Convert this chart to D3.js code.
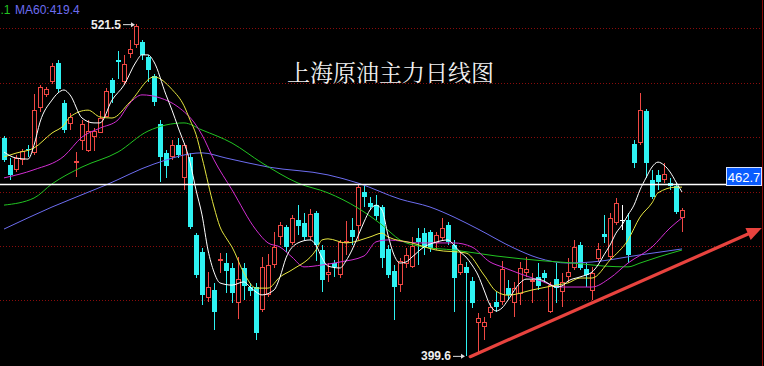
<!DOCTYPE html>
<html><head><meta charset="utf-8">
<script src="https://cdn.jsdelivr.net/npm/d3@7"></script>
<style>html,body{margin:0;padding:0;background:#000;overflow:hidden}</style>
</head><body><svg id="c" width="764" height="366"></svg>
<script>
// ---- data ----
const opens = [479.7,469.7,467.9,471.6,475.6,474.1,490.7,495.5,500.2,507.2,492.5,484.8,470.9,478.6,474.9,480.0,481.5,487.2,501.0,508.3,500.2,510.5,513.8,514.9,509.4,502.4,484.8,474.2,472.7,477.1,464.8,472.7,444.0,437.8,420.9,423.8,434.5,433.7,431.9,419.0,431.9,424.9,424.9,416.5,422.0,433.0,443.3,446.9,441.1,449.5,448.4,443.3,452.1,438.5,429.3,433.7,429.3,440.9,445.9,447.3,459.8,455.8,455.0,454.3,438.9,430.8,425.6,433.4,432.3,442.9,444.7,445.1,441.1,442.9,447.7,440.3,430.0,432.3,427.1,411.7,410.2,415.4,419.4,419.4,424.5,419.0,422.3,430.0,426.8,428.6,430.0,415.7,427.8,423.1,428.6,431.9,440.3,431.5,423.4,435.2,444.4,435.9,448.4,449.5,449.5,477.5,477.8,489.6,464.2,466.1,464.2,463.1,462.0,450.3];
const highs = [480.4,472.3,473.4,475.6,477.1,495.8,499.1,498.4,507.2,508.3,493.6,488.9,474.5,486.3,486.3,483.3,489.6,498.0,501.7,511.6,510.2,515.7,521.5,515.7,510.2,503.2,486.3,475.3,478.9,479.7,477.8,474.2,444.7,439.2,430.4,426.4,437.4,437.4,433.7,435.9,433.7,426.4,426.4,435.9,437.0,445.1,448.8,447.7,451.4,455.0,452.1,453.6,452.8,440.3,433.7,434.8,442.2,449.2,450.3,462.4,462.0,458.0,458.7,455.0,440.3,433.0,435.6,439.2,443.3,446.6,446.6,445.9,445.1,450.3,448.8,442.2,437.8,434.1,428.6,415.4,413.9,419.0,423.1,434.5,427.5,426.8,434.1,435.9,430.0,433.7,431.2,426.8,433.7,430.0,435.6,442.2,441.4,433.7,432.3,441.1,451.4,452.1,457.6,455.0,452.1,478.9,496.2,490.3,467.9,467.9,470.5,465.0,463.1,453.9];
const lows = [470.8,464.2,467.2,469.7,472.7,473.4,489.2,494.7,499.5,496.6,481.5,482.6,465.3,475.3,474.5,474.9,481.5,487.2,492.5,501.3,499.1,509.1,512.7,508.3,500.2,491.4,463.5,464.8,471.6,472.3,460.6,446.2,428.2,418.3,419.4,409.1,430.0,422.7,419.0,413.1,420.1,421.6,405.4,415.7,421.2,431.9,440.3,437.8,440.3,444.0,442.2,442.2,434.5,423.1,426.8,428.6,428.2,436.7,440.3,442.2,454.3,453.2,449.5,431.9,428.2,412.8,423.1,431.9,431.9,433.0,436.7,437.8,438.5,442.2,440.3,415.7,429.3,399.6,417.2,401.0,405.4,413.5,415.7,418.3,420.1,413.9,418.3,428.6,419.0,423.8,426.8,415.4,419.0,417.6,426.4,431.2,431.2,424.9,420.1,434.1,441.1,435.2,447.7,445.9,433.7,468.6,477.1,464.8,457.3,460.6,463.1,460.6,451.7,445.1];
const closes = [471.6,466.1,472.3,474.9,475.2,489.9,498.4,497.7,506.1,497.7,482.6,487.4,471.3,484.8,482.2,482.2,487.0,497.1,496.2,507.6,506.9,512.4,520.8,510.2,504.6,492.9,472.7,469.4,477.1,473.4,477.1,446.9,429.3,422.0,424.9,415.7,435.2,430.8,422.7,427.8,425.3,423.4,408.0,432.3,433.0,439.6,447.7,439.6,450.3,447.3,443.3,451.7,440.3,427.5,430.4,432.3,441.4,441.8,443.3,461.6,458.0,454.3,451.0,435.6,429.3,424.9,434.5,436.7,440.0,441.4,439.2,439.2,444.0,446.6,441.4,428.2,433.4,430.0,419.0,413.5,412.0,417.6,417.6,431.5,422.0,424.5,431.9,431.5,427.5,425.3,428.2,425.6,424.5,426.8,430.4,439.6,431.9,429.3,430.0,438.9,443.3,450.3,455.8,449.5,436.7,470.5,489.9,470.5,458.0,463.5,466.4,462.0,452.5,453.2];

// moving averages, sampled [bar index, value]
const ma5 = [[0,474.5],[2,472.3],[4,471.9],[5,477.0],[6,485.5],[8,493.6],[9,496.2],[10,497.3],[11,495.5],[13,487.0],[15,485.2],[16,485.2],[18,493.6],[20,499.1],[22,507.6],[23,510.2],[24,510.2],[25,507.6],[27,495.5],[28,489.9],[29,483.7],[31,470.8],[32,460.6],[33,451.4],[34,438.5],[35,430.4],[36,426.4],[38,425.6],[40,426.8],[41,424.9],[42,423.1],[43,422.0],[45,423.8],[46,428.6],[47,435.6],[49,441.1],[51,442.2],[52,440.3],[53,435.6],[54,432.6],[56,431.9],[57,434.5],[58,438.5],[59,443.6],[60,448.8],[61,453.2],[62,455.0],[63,453.2],[64,444.0],[65,436.7],[66,433.7],[67,434.1],[68,435.9],[70,439.6],[72,441.4],[74,442.2],[75,440.3],[76,437.8],[77,435.9],[78,433.0],[79,429.3],[80,423.8],[81,418.3],[82,416.1],[83,417.2],[84,420.1],[86,426.4],[87,427.8],[89,427.8],[90,427.1],[92,424.9],[93,425.3],[94,427.1],[96,428.6],[98,430.4],[99,433.0],[100,436.7],[101,440.3],[102,444.7],[103,447.7],[104,451.4],[105,455.0],[106,460.6],[107,465.0],[108,469.0],[109,470.8],[110,469.7],[111,467.2],[112,463.5],[113,459.8]];
const ma10 = [[0,472.7],[2,474.1],[5,476.0],[8,481.5],[10,484.4],[11,487.4],[14,489.9],[16,487.4],[18,487.0],[21,492.9],[25,502.1],[28,497.5],[30,491.5],[31,486.3],[32,481.0],[33,472.5],[35,454.3],[36,447.0],[37,443.0],[38,439.6],[40,430.0],[42,424.5],[44,424.5],[46,428.6],[48,431.2],[52,438.5],[53,442.2],[54,442.6],[57,441.1],[61,443.3],[63,444.7],[64,443.3],[68,441.1],[72,438.5],[77,437.4],[80,429.3],[82,423.4],[84,421.9],[88,423.8],[92,425.6],[94,426.4],[96,428.2],[98,428.2],[101,434.8],[104,442.2],[106,450.6],[108,455.8],[109,459.5],[112,461.6],[113,461.6]];
const ma20 = [[0,465.0],[5,468.0],[10,473.0],[13,480.0],[16,483.3],[19,486.3],[21,492.5],[23,495.5],[26,494.4],[29,491.1],[32,484.4],[33,480.8],[35,471.6],[38,460.6],[42,445.9],[44,441.1],[46,439.6],[48,435.9],[50,432.3],[53,433.0],[56,434.1],[60,436.3],[62,441.5],[64,442.2],[69,441.1],[75,441.1],[78,439.6],[81,434.1],[83,432.3],[89,427.5],[93,424.9],[98,424.9],[101,428.2],[104,433.7],[108,439.6],[111,446.6],[113,450.3]];
const ma30 = [[0,455.0],[5,457.6],[8,462.8],[13,469.0],[19,474.5],[24,482.2],[30,485.2],[33,482.6],[38,477.8],[43,470.5],[49,463.1],[54,459.5],[59,453.9],[63,447.7],[66,442.2],[70,439.6],[75,438.5],[82,436.3],[90,434.5],[95,433.7],[100,432.6],[104,432.3],[106,433.7],[109,435.9],[113,438.5]];
const ma60 = [[0,446.2],[8,454.3],[17,462.4],[25,470.1],[33,474.2],[37,472.3],[44,469.0],[54,466.1],[59,463.1],[66,457.2],[71,454.3],[75,450.6],[79,446.2],[85,439.2],[89,435.6],[94,433.7],[98,434.1],[106,436.7],[113,438.9]];

const gridPrices = [420, 440, 460, 480, 500, 520];
const refPrice = 462.7;
const highMark = {i: 22, v: 521.5};
const lowMark = {i: 77, v: 399.6};
const trendLine = [[77.7, 399.3], [126.3, 446.6]];
const titleText = "上海原油主力日线图";
const legendMA30Tail = ".1";
const legendMA60 = "MA60:419.4";

// ---- drawing ----
const svg = d3.select("#c");
const x = d3.scaleLinear().domain([0, 113]).range([4, 682]);
const y = d3.scaleLinear().domain([390, 530]).range([382, 1]);

svg.append("rect").attr("width",764).attr("height",366).attr("fill","#000");

// grid
svg.append("g").selectAll("line").data(gridPrices).join("line")
  .attr("x1",0).attr("x2",762)
  .attr("y1",d=>Math.round(y(d))+0.5).attr("y2",d=>Math.round(y(d))+0.5)
  .attr("stroke","#8a0c0c").attr("stroke-width",1).attr("stroke-dasharray","1,2");
svg.append("line").attr("x1",762.5).attr("x2",762.5).attr("y1",0).attr("y2",366)
  .attr("stroke","#8a0c0c").attr("stroke-width",1);

const RED = "#f04844", CYAN = "#2ef2f2";
const gC = svg.append("g");
closes.forEach((c, i) => {
  const o = opens[i], h = highs[i], l = lows[i];
  const xi = Math.round(x(i));
  const top = Math.round(y(Math.max(o,c))), bot = Math.round(y(Math.min(o,c)));
  const yh = Math.round(y(h)), yl = Math.round(y(l));
  if (o === c) {
    gC.append("line").attr("x1",xi+0.5).attr("x2",xi+0.5).attr("y1",yh).attr("y2",yl).attr("stroke","#fff");
    gC.append("line").attr("x1",xi-2).attr("x2",xi+3).attr("y1",top+0.5).attr("y2",top+0.5).attr("stroke","#fff");
  } else if (c > o) {
    gC.append("line").attr("x1",xi+0.5).attr("x2",xi+0.5).attr("y1",yh).attr("y2",top).attr("stroke",RED);
    gC.append("line").attr("x1",xi+0.5).attr("x2",xi+0.5).attr("y1",bot).attr("y2",yl).attr("stroke",RED);
    gC.append("rect").attr("x",xi-1.5).attr("y",top+0.5).attr("width",4).attr("height",Math.max(bot-top-1,1))
      .attr("fill","#000").attr("stroke",RED).attr("stroke-width",1);
  } else {
    gC.append("line").attr("x1",xi+0.5).attr("x2",xi+0.5).attr("y1",yh).attr("y2",yl).attr("stroke",CYAN);
    gC.append("rect").attr("x",xi-2).attr("y",top).attr("width",5).attr("height",Math.max(bot-top,1)).attr("fill",CYAN);
  }
});

// moving averages
const line = d3.line().x(d=>x(d[0])).y(d=>y(d[1])).curve(d3.curveMonotoneX);
[[ma60,"#6d6df0"],[ma30,"#22c422"],[ma20,"#d22ed2"],[ma10,"#e6e640"],[ma5,"#ffffff"]].forEach(([d,col]) => {
  svg.append("path").attr("d", line(d)).attr("fill","none").attr("stroke",col).attr("stroke-width",1);
});

// reference line + label
const yr = Math.round(y(refPrice));
svg.append("line").attr("x1",0).attr("x2",726).attr("y1",yr+0.5).attr("y2",yr+0.5)
  .attr("stroke","#fff").attr("stroke-width",1.6);
svg.append("rect").attr("x",726.5).attr("y",yr-16.5).attr("width",35).attr("height",18)
  .attr("fill","#0a5cff").attr("stroke","#d8e4ff").attr("stroke-width",1);
svg.append("text").attr("x",744).attr("y",yr-2.5).attr("text-anchor","middle")
  .attr("font-family","Liberation Sans, Arial, sans-serif").attr("font-size",13).attr("fill","#fff")
  .text(refPrice.toFixed(1));

// trend arrow
const ax1 = x(trendLine[0][0]), ay1 = y(trendLine[0][1]);
const ax2 = x(trendLine[1][0]), ay2 = y(trendLine[1][1]);
const ang = Math.atan2(ay2-ay1, ax2-ax1);
const hl = 15, hw = 6.5;
const bx = ax2 - hl*Math.cos(ang), by = ay2 - hl*Math.sin(ang);
svg.append("line").attr("x1",ax1).attr("y1",ay1).attr("x2",bx).attr("y2",by)
  .attr("stroke","#e8433e").attr("stroke-width",3.2).attr("stroke-linecap","round");
svg.append("path").attr("d",
  `M${ax2},${ay2}L${bx - hw*Math.sin(ang)},${by + hw*Math.cos(ang)}L${bx + hw*Math.sin(ang)},${by - hw*Math.cos(ang)}Z`)
  .attr("fill","#e8433e");

// high / low annotations
function mark(m, dy) {
  const xm = Math.round(x(m.i));
  const ym = y(m.v);
  svg.append("line").attr("x1",xm-13).attr("x2",xm-2).attr("y1",ym+0.5).attr("y2",ym+0.5)
    .attr("stroke","#ddd").attr("stroke-width",1);
  svg.append("path").attr("d",`M${xm-1},${ym+0.5}L${xm-5},${ym-2}L${xm-5},${ym+3}Z`).attr("fill","#ddd");
  svg.append("text").attr("x",xm-15).attr("y",ym+dy).attr("text-anchor","end")
    .attr("font-family","Liberation Sans, Arial, sans-serif").attr("font-size",12).attr("font-weight","bold")
    .attr("fill","#eee").text(m.v.toFixed(1));
}
mark(highMark, 4.5);
mark(lowMark, 4.5);

// title
svg.append("text").attr("x",287).attr("y",81)
  .attr("font-family","'Noto Serif CJK SC','Noto Sans CJK SC',sans-serif").attr("font-size",23)
  .attr("fill","#f2f2f2").text(titleText);

// legend
svg.append("text").attr("x",0.5).attr("y",13.5).attr("font-family","Liberation Sans, Arial, sans-serif")
  .attr("font-size",12).attr("fill","#22c422").text(legendMA30Tail);
svg.append("text").attr("x",15).attr("y",13.5).attr("font-family","Liberation Sans, Arial, sans-serif")
  .attr("font-size",12).attr("fill","#6d6df0").text(legendMA60);
</script>
</body></html>
